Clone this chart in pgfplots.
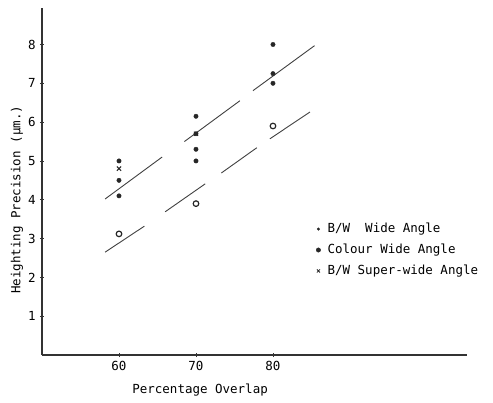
\documentclass[border=0pt]{standalone}
\usepackage{fontspec}
\setmainfont{DejaVu Sans Mono}
\usepackage{pgfplots}
\pgfplotsset{compat=1.18}
\begin{document}
\fontsize{12.5}{15}\selectfont
\begin{tikzpicture}
\path[use as bounding box] (0pt,0pt) rectangle (493pt,402pt);
\begin{axis}[
    at={(42pt,47pt)}, anchor=south west,
    scale only axis,
    width=425pt, height=347pt,
    xmin=50, xmax=105.2,
    ymin=0, ymax=8.94,
    axis lines=left,
    axis line style={-, black!80, line width=1.3pt},
    xtick={60,70,80},
    ytick={1,2,3,4,5,6,7,8},
    tick style={black!80, line width=0.8pt},
    major tick length=4pt,
    tick align=center,
    /pgf/number format/assume math mode=true,
    ticklabel style={font=\fontsize{12.5}{15}\selectfont},
    xlabel={Percentage Overlap},
    ylabel={Heighting Precision (μm.)},
    xlabel style={at={(axis description cs:0.372,-0.101)}, anchor=center},
    ylabel style={at={(axis description cs:-0.059,0.447)}, anchor=center},
    legend style={draw=none, fill=none, at={(axis cs:85.2,3.5)}, anchor=north west,
                  row sep=5.5pt, column sep=5pt, cells={anchor=west},
                  font=\fontsize{12.5}{15}\selectfont},
    legend image code/.code={\draw[#1] plot coordinates {(0.1cm,0cm)};},
]
% filled dots
\addplot[only marks, mark=*, mark size=2.2pt, black!85, forget plot] coordinates {
    (60,5.0) (60,4.5) (60,4.1)
    (70,6.15) (70,5.7) (70,5.3) (70,5.0)
    (80,8.0) (80,7.25) (80,7.0)
};
% super-wide crosses
\addplot[only marks, mark=x, mark size=3pt, line width=1pt, black!85, forget plot] coordinates {
    (60,4.8) (70,5.7)
};
% open circles
\addplot[only marks, mark=o, mark size=2.8pt, line width=1.2pt, black!85, forget plot] coordinates {
    (60,3.12) (70,3.9) (80,5.9)
};
% upper fitted line, broken
\addplot[black!75, line width=0.9pt, forget plot] coordinates {(58.2,4.02) (65.6,5.10)};
\addplot[black!75, line width=0.9pt, forget plot] coordinates {(68.5,5.50) (75.7,6.55)};
\addplot[black!75, line width=0.9pt, forget plot] coordinates {(77.4,6.81) (85.4,7.97)};
% lower fitted line, broken
\addplot[black!75, line width=0.9pt, forget plot] coordinates {(58.2,2.65) (63.3,3.32)};
\addplot[black!75, line width=0.9pt, forget plot] coordinates {(66.0,3.69) (71.2,4.41)};
\addplot[black!75, line width=0.9pt, forget plot] coordinates {(73.3,4.69) (77.9,5.34)};
\addplot[black!75, line width=0.9pt, forget plot] coordinates {(79.6,5.57) (84.8,6.26)};

\addlegendimage{only marks, mark=*, mark size=1.3pt, black!85}
\addlegendentry{B/W\ \ Wide Angle}
\addlegendimage{only marks, mark=*, mark size=2.2pt, black!85}
\addlegendentry{Colour Wide\ Angle}
\addlegendimage{only marks, mark=x, mark size=2.2pt, line width=0.8pt, black!85}
\addlegendentry{B/W Super-wide Angle}
\end{axis}
\end{tikzpicture}
\end{document}
